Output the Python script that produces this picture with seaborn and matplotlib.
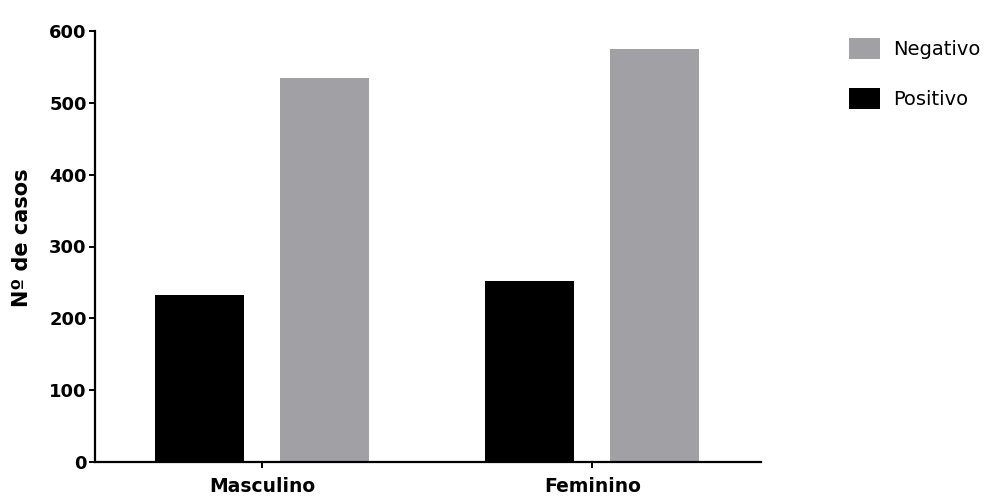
import matplotlib
matplotlib.use("Agg")
import matplotlib.pyplot as plt
import seaborn as sns
import pandas as pd

# Case counts by sex and test result
sexos = ["Masculino", "Feminino"]
positivo = [232, 252]
negativo = [535, 575]
resultados = ["Positivo", "Negativo"]
legend_order = ["Negativo", "Positivo"]
y_ticks = [0, 100, 200, 300, 400, 500, 600]

df = pd.DataFrame({
    "Sexo": sexos * 2,
    "Resultado": ["Positivo"] * len(sexos) + ["Negativo"] * len(sexos),
    "Casos": positivo + negativo,
})

sns.set_theme(style="ticks")
plt.rcParams["font.family"] = ["DejaVu Sans"]
plt.rcParams["text.color"] = "black"
plt.rcParams["axes.labelcolor"] = "black"

fig = plt.figure(figsize=(9.99, 4.96), dpi=100)
ax = fig.add_axes([95 / 999, 1 - 462 / 496, 666 / 999, 431 / 496])

palette = {"Positivo": "#000000", "Negativo": "#a1a0a4"}
sns.barplot(data=df, x="Sexo", y="Casos", hue="Resultado", order=sexos,
            hue_order=resultados, palette=palette, width=0.756, gap=0.288,
            saturation=1, linewidth=0, ax=ax)

ax.set_xlim(-0.505, 1.51)
ax.set_ylim(0, 600)
ax.set_yticks(y_ticks)
ax.set_xlabel("")
ax.set_ylabel("Nº de casos", fontsize=15, fontweight="bold", color="black")
ax.yaxis.set_label_coords(-0.095, 0.52)

sns.despine(ax=ax)
for side in ("left", "bottom"):
    ax.spines[side].set_linewidth(1.6)
    ax.spines[side].set_color("black")

ax.tick_params(axis="y", direction="out", length=4.5, width=1.4, pad=1.5,
               labelsize=13, colors="black")
ax.tick_params(axis="x", direction="out", length=4.5, width=1.4, pad=6,
               labelsize=13.5, colors="black")
for lab in ax.get_xticklabels() + ax.get_yticklabels():
    lab.set_fontweight("bold")

handles, labels = ax.get_legend_handles_labels()
ax.get_legend().remove()
hmap = dict(zip(labels, handles))
leg = fig.legend([hmap[k] for k in legend_order], legend_order,
                 loc="upper left", bbox_to_anchor=(849 / 999, 1 - 38 / 496),
                 frameon=False, fontsize=14, handlelength=1.6,
                 handleheight=1.29, handletextpad=0.65, labelspacing=1.5,
                 borderpad=0, borderaxespad=0)
for t in leg.get_texts():
    t.set_color("black")

fig.savefig("out.png", dpi=100)
